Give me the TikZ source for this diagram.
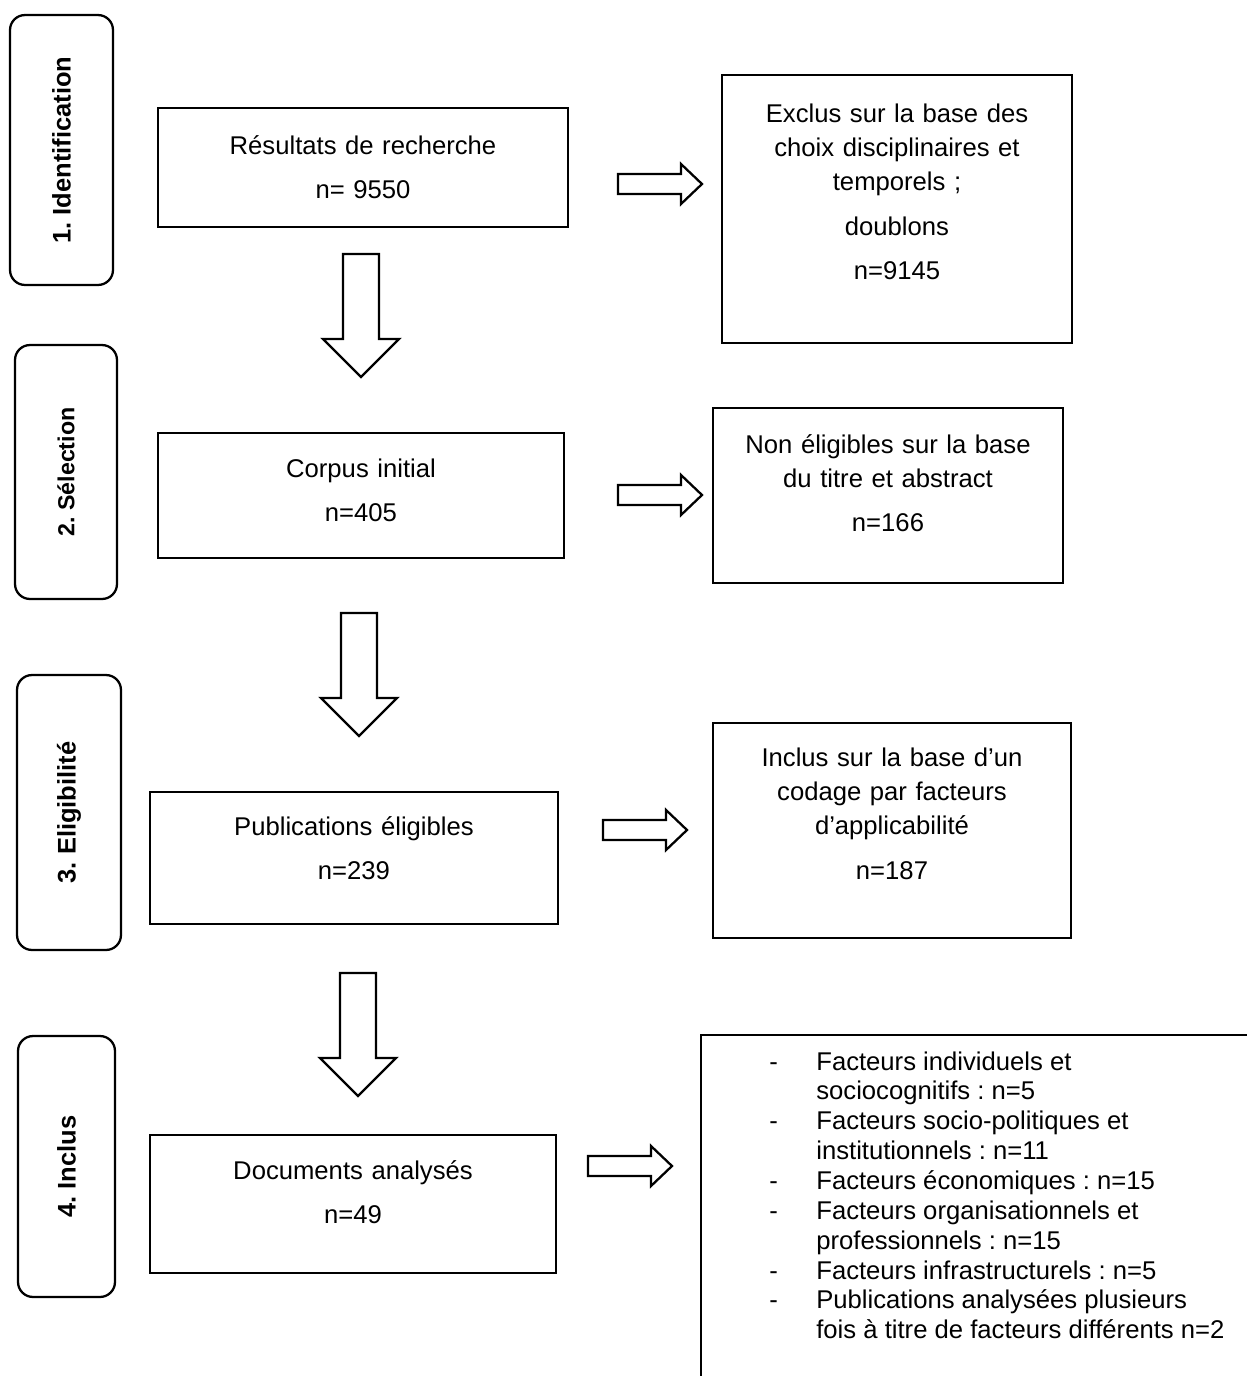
\documentclass[tikz,border=0pt]{standalone}
\usepackage{fontspec}
\setmainfont{Liberation Sans}
\usetikzlibrary{positioning, calc}
\frenchspacing

\newcommand{\boxfont}{\fontsize{14.6}{19.6}\selectfont}
\newcommand{\listfont}{\fontsize{14.6}{17}\selectfont}

\begin{document}
\begin{tikzpicture}[
      x=0.02cm, y=-0.02cm,
      stepbox/.style={draw, line width=1.1pt, inner sep=0pt},
      steptext/.style={inner sep=0pt, align=center, font=\boxfont,
          anchor=base, text width=6.8cm},
      phase/.style={draw, rounded corners=0.3cm, line width=1.3pt,
          rotate=90, inner sep=0pt,
          font=\fontsize{14.5}{17}\selectfont\bfseries},
      blockarrow/.style={draw, line width=1.3pt, fill=white},
      downarr/.pic={\draw[blockarrow] (-18,0) -- (-18,85) -- (-38,85)
          -- (0,123) -- (38,85) -- (18,85) -- (18,0) -- cycle;},
      rightarr/.pic={\draw[blockarrow] (0,-10) -- (63,-10) -- (63,-20)
          -- (84,0) -- (63,20) -- (63,10) -- (0,10) -- cycle;}
  ]

  \useasboundingbox (0,0) rectangle (1247,1376);
  \clip (0,0) rectangle (1247,1376);

  % ══════════════════════════════
  % PHASES (colonne de gauche)
  % ══════════════════════════════
  \node[phase, minimum width=5.4cm, minimum height=2.06cm] (ident)
      at (61.5,150) {1. Identification};
  \node[phase, minimum width=5.08cm, minimum height=2.04cm,
        font=\fontsize{13.2}{16}\selectfont\bfseries] (select)
      at (66,472) {2. Sélection};
  \node[phase, minimum width=5.5cm, minimum height=2.08cm] (eligib)
      at (69,812.5) {3. Eligibilité};
  \node[phase, minimum width=5.22cm, minimum height=1.94cm] (inclu)
      at (66.5,1166.5) {4. Inclus};

  % ══════════════════════════════
  % BOÎTES CENTRALES
  % ══════════════════════════════
  \node[stepbox, minimum width=8.2cm, minimum height=2.38cm] (res)
      at (363,167.5) {};
  \node[steptext] (restxt) at ($(res.north)+(0,47)$)
      {Résultats de recherche\\[5.5pt] n= 9550};

  \node[stepbox, minimum width=8.12cm, minimum height=2.5cm] (corpus)
      at (361,495.5) {};
  \node[steptext] (corpustxt) at ($(corpus.north)+(0,45)$)
      {Corpus initial\\[5.5pt] n=405};

  \node[stepbox, minimum width=8.16cm, minimum height=2.64cm] (elig)
      at (354,858) {};
  \node[steptext] (eligtxt) at ($(elig.north)+(0,44)$)
      {Publications éligibles\\[5.5pt] n=239};

  \node[stepbox, minimum width=8.12cm, minimum height=2.76cm] (docs)
      at (353,1204) {};
  \node[steptext] (docstxt) at ($(docs.north)+(0,45)$)
      {Documents analysés\\[5.5pt] n=49};

  % ══════════════════════════════
  % BOÎTES DE DROITE
  % ══════════════════════════════
  \node[stepbox, minimum width=7cm, minimum height=5.36cm] (exclus)
      at (897,209) {};
  \node[steptext] (exclustxt) at ($(exclus.north)+(0,48)$)
      {Exclus sur la base des\\ choix disciplinaires et\\ temporels ;\\[5.5pt]
       doublons\\[5.5pt] n=9145};

  \node[stepbox, minimum width=7cm, minimum height=3.5cm] (nonelig)
      at (888,495.5) {};
  \node[steptext] (noneligtxt) at ($(nonelig.north)+(0,46)$)
      {Non éligibles sur la base\\ du titre et abstract\\[5.5pt] n=166};

  \node[stepbox, minimum width=7.16cm, minimum height=4.3cm] (inclus)
      at (892,830.5) {};
  \node[steptext] (inclustxt) at ($(inclus.north)+(0,44)$)
      {Inclus sur la base d’un\\ codage par facteurs\\ d’applicabilité\\[5.5pt]
       n=187};

  \node[stepbox, minimum width=11.98cm, minimum height=7.7cm] (facteurs)
      at (1000.5,1227.5) {};
  \node[inner sep=0pt, anchor=base west, font=\listfont] (factlist)
      at (769,1070) {%
      \begin{tabular}[t]{@{}p{0.94cm}@{}l@{}}
        - & Facteurs individuels et\\
          & sociocognitifs : n=5\\
        - & Facteurs socio-politiques et\\
          & institutionnels : n=11\\
        - & Facteurs économiques : n=15\\
        - & Facteurs organisationnels et\\
          & professionnels : n=15\\
        - & Facteurs infrastructurels : n=5\\
        - & Publications analysées plusieurs\\
          & fois à titre de facteurs différents n=2
      \end{tabular}};

  % ══════════════════════════════
  % FLÈCHES
  % ══════════════════════════════
  \pic at (361,254) {downarr};
  \pic at (359,613) {downarr};
  \pic at (358,973) {downarr};

  \pic at (618,184) {rightarr};
  \pic at (618,495) {rightarr};
  \pic at (603,830) {rightarr};
  \pic at (588,1166) {rightarr};

\end{tikzpicture}
\end{document}
